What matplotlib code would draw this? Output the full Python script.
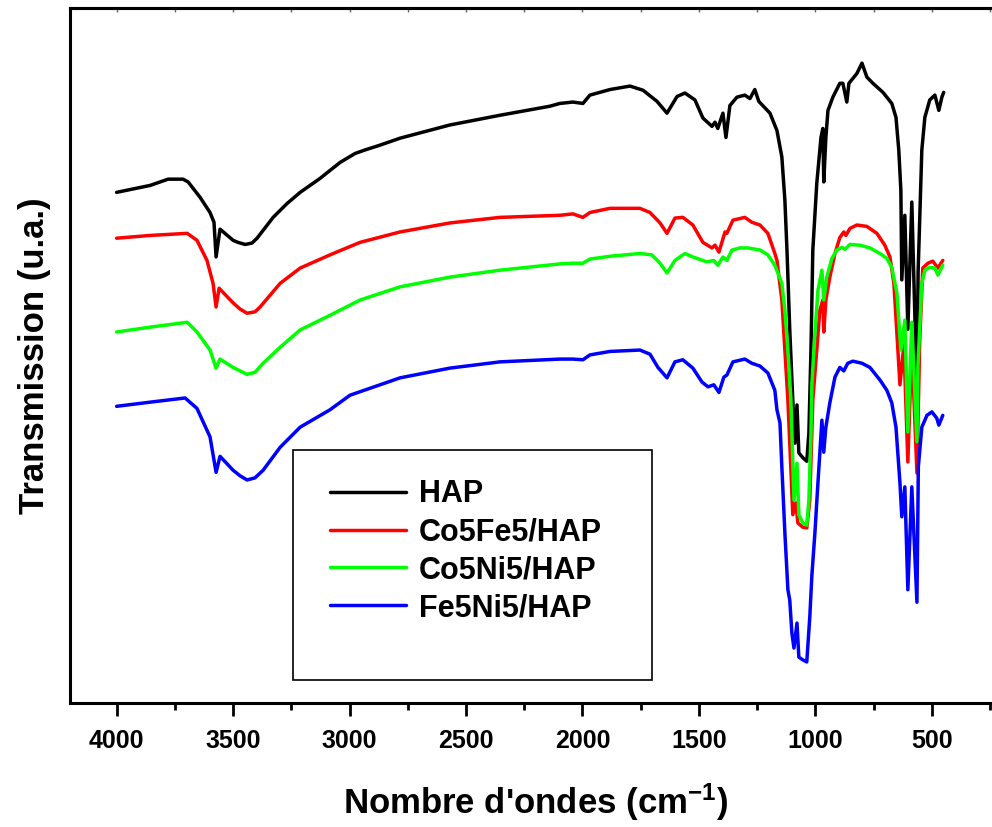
import numpy as np
import matplotlib.pyplot as plt
from matplotlib.patches import Rectangle

plt.rcParams['font.family'] = ['Liberation Sans', 'DejaVu Sans']
plt.rcParams['font.weight'] = 'bold'
plt.rcParams['axes.labelweight'] = 'bold'
plt.rcParams['mathtext.fontset'] = 'custom'
plt.rcParams['mathtext.rm'] = 'Liberation Sans:bold'
plt.rcParams['mathtext.bf'] = 'Liberation Sans:bold'
plt.rcParams['mathtext.default'] = 'bf'

# HAP
wn_hap = [4000, 3856, 3779, 3715, 3693, 3642, 3599, 3582, 3573, 3556,
          3500, 3479, 3448, 3419, 3397, 3328, 3268, 3212, 3127, 3041,
          2976, 2934, 2869, 2783, 2569, 2354, 2140, 2097, 2041, 1998,
          1968, 1882, 1796, 1740, 1680, 1637, 1594, 1560, 1517, 1483,
          1444, 1431, 1419, 1397, 1384, 1367, 1337, 1303, 1281, 1260,
          1243, 1195, 1165, 1144, 1131, 1122, 1110, 1097, 1088, 1079,
          1071, 1054, 1037, 1028, 1019, 1011, 994, 976, 968, 964,
          955, 946, 925, 895, 882, 865, 856, 839, 822, 800,
          779, 753, 710, 672, 654, 642, 633, 629, 616, 603,
          586, 564, 559, 543, 530, 509, 487, 470, 457, 449]
t_hap = [73.5, 74.5, 75.4, 75.4, 75.0, 72.8, 70.6, 69.2, 64.2, 68.2,
         66.6, 66.3, 66.0, 66.2, 66.9, 69.9, 71.9, 73.5, 75.5, 77.8,
         79.1, 79.6, 80.3, 81.3, 83.2, 84.6, 85.9, 86.3, 86.5, 86.3,
         87.5, 88.3, 88.8, 88.2, 86.6, 84.9, 87.3, 87.8, 86.8, 84.2,
         83.0, 83.6, 82.7, 84.9, 81.4, 86.0, 87.2, 87.5, 87.0, 88.3,
         86.6, 84.9, 82.4, 78.6, 72.4, 65.2, 53.7, 43.6, 37.4, 42.9,
         36.0, 35.3, 34.8, 38.8, 50.8, 65.2, 74.8, 81.4, 82.7, 75.0,
         81.4, 85.3, 87.2, 89.2, 89.2, 86.5, 89.2, 89.9, 90.6, 92.1,
         90.1, 89.2, 87.9, 86.3, 84.3, 79.6, 73.8, 60.9, 70.2, 53.8,
         72.1, 44.6, 62.0, 79.6, 84.3, 86.8, 87.5, 85.3, 87.2, 87.9]

# Co5Fe5/HAP
wn_cofe = [4000, 3856, 3697, 3655, 3612, 3586, 3573, 3560, 3500, 3470,
           3440, 3406, 3384, 3298, 3212, 3084, 2955, 2783, 2569, 2354,
           2097, 2041, 1998, 1968, 1882, 1753, 1710, 1667, 1637, 1603,
           1569, 1526, 1483, 1444, 1431, 1414, 1388, 1380, 1354, 1303,
           1273, 1238, 1204, 1174, 1165, 1144, 1131, 1118, 1105, 1097,
           1084, 1075, 1054, 1037, 1024, 1011, 994, 981, 968, 964,
           955, 938, 916, 895, 878, 869, 852, 822, 779, 736,
           702, 680, 663, 650, 637, 620, 603, 586, 564, 552,
           539, 517, 496, 474, 453]
t_cofe = [66.9, 67.3, 67.6, 66.6, 63.7, 60.4, 57.0, 59.7, 57.6, 56.7,
          56.1, 56.3, 57.0, 60.4, 62.6, 64.5, 66.3, 67.8, 69.1, 69.9,
          70.2, 70.4, 69.9, 70.6, 71.2, 71.2, 70.6, 69.1, 67.6, 69.8,
          69.9, 68.8, 66.3, 65.5, 65.9, 64.9, 67.8, 67.6, 69.5, 69.9,
          69.2, 68.8, 67.6, 64.7, 63.7, 58.0, 50.8, 43.6, 33.5, 27.1,
          28.8, 25.9, 25.3, 25.2, 29.2, 43.6, 50.8, 56.5, 58.0, 53.4,
          58.0, 61.3, 64.7, 67.0, 67.8, 67.3, 68.3, 68.8, 68.6, 67.6,
          65.9, 64.2, 60.4, 53.2, 45.8, 51.5, 34.7, 51.5, 33.1, 52.2,
          62.6, 63.3, 63.6, 62.6, 63.7]

# Co5Ni5/HAP
wn_coni = [4000, 3856, 3697, 3655, 3599, 3573, 3556, 3500, 3470, 3440,
           3406, 3371, 3298, 3212, 3084, 2955, 2783, 2569, 2354, 2097,
           2041, 1998, 1968, 1882, 1753, 1702, 1667, 1637, 1603, 1560,
           1526, 1466, 1436, 1419, 1397, 1380, 1358, 1324, 1290, 1238,
           1204, 1174, 1144, 1131, 1118, 1105, 1092, 1079, 1071, 1054,
           1037, 1028, 1019, 1015, 1002, 989, 972, 964, 951, 929,
           908, 886, 873, 852, 809, 766, 723, 693, 672, 650,
           642, 633, 616, 603, 586, 564, 560, 543, 530, 509,
           487, 474, 453]
t_coni = [53.4, 54.1, 54.8, 53.4, 50.8, 48.2, 49.5, 48.3, 47.8, 47.3,
          47.6, 48.9, 51.2, 53.7, 55.8, 58.0, 59.9, 61.3, 62.3, 63.2,
          63.3, 63.3, 63.9, 64.3, 64.7, 64.5, 63.3, 61.9, 63.7, 64.7,
          64.2, 63.5, 63.7, 63.0, 64.2, 63.7, 65.2, 65.5, 65.5, 65.2,
          64.5, 63.0, 60.4, 56.5, 50.8, 43.6, 29.2, 34.5, 27.1, 25.9,
          25.6, 29.2, 38.8, 46.0, 53.2, 59.4, 62.3, 58.0, 61.3, 64.0,
          65.2, 65.6, 65.3, 66.0, 65.9, 65.5, 64.7, 64.0, 62.7, 59.0,
          55.1, 50.8, 55.1, 39.0, 54.8, 37.6, 48.3, 60.4, 62.3, 62.7,
          62.6, 61.6, 63.0]

# Fe5Ni5/HAP
wn_feni = [4000, 3856, 3706, 3655, 3599, 3573, 3556, 3500, 3470, 3440,
           3406, 3371, 3298, 3212, 3084, 2998, 2869, 2783, 2569, 2354,
           2097, 2041, 1998, 1968, 1882, 1753, 1710, 1676, 1637, 1603,
           1569, 1526, 1487, 1461, 1436, 1414, 1393, 1380, 1354, 1303,
           1273, 1238, 1204, 1174, 1165, 1152, 1144, 1131, 1118, 1110,
           1101, 1092, 1079, 1071, 1054, 1037, 1024, 1015, 1002, 989,
           972, 964, 955, 938, 916, 895, 878, 861, 839, 800,
           766, 723, 693, 672, 654, 637, 629, 616, 603, 586,
           564, 558, 543, 521, 500, 479, 470, 453]
t_feni = [42.7, 43.3, 43.9, 42.4, 38.3, 33.2, 35.5, 33.5, 32.7, 32.1,
          32.4, 33.5, 36.8, 39.7, 42.2, 44.3, 45.8, 46.8, 48.2, 49.1,
          49.5, 49.5, 49.4, 50.1, 50.6, 50.8, 50.2, 48.3, 46.8, 49.1,
          49.4, 48.2, 46.2, 45.5, 45.8, 44.7, 46.9, 47.2, 49.1, 49.5,
          48.9, 48.5, 47.5, 45.0, 42.2, 40.3, 34.0, 24.5, 16.3, 14.8,
          10.1, 7.9, 11.5, 6.6, 6.2, 5.9, 12.4, 18.4, 24.5, 31.7,
          40.7, 36.1, 39.7, 43.2, 46.9, 48.3, 47.8, 48.9, 49.2, 48.9,
          48.3, 46.5, 45.0, 43.2, 39.7, 31.7, 26.8, 31.1, 16.3, 31.1,
          14.5, 34.0, 39.7, 41.4, 41.9, 41.0, 40.0, 41.4]

series = [
    (wn_hap, t_hap, 'black', 'HAP'),
    (wn_cofe, t_cofe, 'red', 'Co5Fe5/HAP'),
    (wn_coni, t_coni, '#00ff00', 'Co5Ni5/HAP'),
    (wn_feni, t_feni, 'blue', 'Fe5Ni5/HAP'),
]

major = np.arange(4000, 499, -500)
minor = np.arange(3750, 200, -500)

fig = plt.figure(figsize=(9.92, 8.27), dpi=100)
ax = fig.add_axes([0.0706, 0.150, 0.9392, 0.840])

for wn, t, c, lab in series:
    ax.plot(wn, t, color=c, lw=2.5, label=lab,
            solid_joinstyle='round', solid_capstyle='round')

ax.set_xlim(4200, 200)
ax.set_ylim(0, 100)
ax.set_xticks(major)
ax.set_xticks(minor, minor=True)
ax.set_yticks([])
ax.tick_params(axis='x', which='major', direction='out', length=9, width=2,
               labelsize=18, pad=10, top=False)
ax.tick_params(axis='x', which='minor', direction='out', length=5, width=2, top=False)
for sp in ax.spines.values():
    sp.set_linewidth(2.2)
ax.spines['right'].set_visible(False)

# small inward ticks along the top frame
top = ax.secondary_xaxis('top')
top.set_xticks(major)
top.set_xticks(minor, minor=True)
top.tick_params(which='both', direction='in', length=3, width=1,
                labeltop=False, color='#666666')
top.spines['top'].set_linewidth(2.2)

ax.set_xlabel("Nombre d'ondes (cm$^{-1}$)", fontsize=25, labelpad=20)
ax.set_ylabel("Transmission (u.a.)", fontsize=25, labelpad=14)

ax.add_patch(Rectangle((0.2393, 0.0331), 0.3854, 0.3309, transform=ax.transAxes,
                       fill=False, ec='black', lw=1.2))
ax.legend(loc='upper left', bbox_to_anchor=(0.279, 0.322), frameon=False,
          fontsize=22, handlelength=2.5, handletextpad=0.42, labelspacing=0.26,
          borderpad=0, borderaxespad=0)

fig.savefig('out.png', dpi=100)
